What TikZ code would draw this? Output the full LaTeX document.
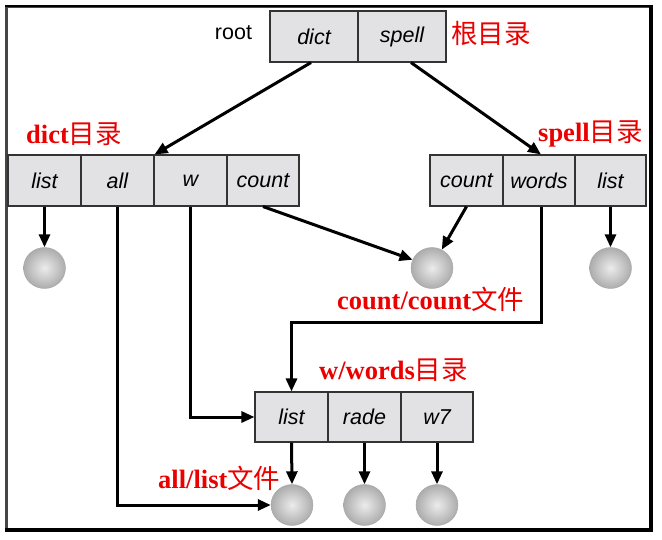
\documentclass[tikz,border=0pt]{standalone}
\usepackage{fontspec}
\setmainfont{Liberation Serif}
\setsansfont{Liberation Sans}
\newfontfamily\cjk{Noto Sans CJK SC}
\usetikzlibrary{arrows.meta,calc,shapes.geometric}
\definecolor{cellgray}{RGB}{226,226,228}
\definecolor{lblred}{RGB}{235,0,0}
\newcommand{\zh}[1]{{\cjk\mdseries #1}}
\tikzset{
  cell/.style={draw=black!80, line width=1.1pt, fill=cellgray, minimum height=51pt,
    inner sep=0pt, font=\sffamily\itshape\fontsize{21.5}{24}\selectfont},
  ball/.style={ellipse, minimum width=42pt, minimum height=41pt, inner sep=0pt,
    draw=gray!70, line width=0.4pt, inner color=gray!15, outer color=gray!65},
  conn/.style={line width=3pt, -{Triangle[length=13pt,width=11pt]}},
  lbl/.style={text=lblred, anchor=west, inner sep=0pt,
    font=\bfseries\fontsize{26.5}{28}\selectfont},
  plain/.style={font=\sffamily\fontsize{21.5}{24}\selectfont, inner sep=0pt}
}
\begin{document}
\begin{tikzpicture}[x=1pt,y=-1pt]
\useasboundingbox (0,0) rectangle (662,539);
% frame
\draw[line width=2.5pt, gray!55!black] (6.5,6.5) rectangle (650,529);
\draw[line width=2pt, black] (5,5.5) -- (652,5.5);
\draw[line width=4pt, black] (650.5,5) -- (650.5,530) -- (5,530);
% root
\node[plain] (rootlbl) at (233.5,33) {root};
\node[cell, minimum width=88pt] (rd) at (314,36.5) {dict};
\node[cell, minimum width=88pt] (rs) at (402,36.5) {spell};
\node[lbl] (l1) at (451,33) {\zh{根目录}};
% dict dir
\node[cell, minimum width=73pt] (dl) at (44.5,180.5) {list};
\node[cell, minimum width=73pt] (da) at (117.5,180.5) {all};
\node[cell, minimum width=73pt] (dw) at (190.5,180.5) {w};
\node[cell, minimum width=72pt] (dc) at (263,180.5) {count};
\node[lbl] (l2) at (26,134) {dict\zh{目录}};
% spell dir
\node[cell, minimum width=73pt] (sc) at (466.5,180.5) {count};
\node[cell, minimum width=72pt] (sw) at (539,180.5) {words};
\node[cell, minimum width=71pt] (sl) at (610.5,180.5) {list};
\node[lbl] (l3) at (538,134) {spell\zh{目录}};
% w/words dir
\node[cell, minimum width=73pt, minimum height=50pt] (wl) at (291.5,417) {list};
\node[cell, minimum width=73pt, minimum height=50pt] (wr) at (364.5,417) {rade};
\node[cell, minimum width=72pt, minimum height=50pt] (w7) at (437,417) {w7};
\node[lbl] (l4) at (319,370) {w/words\zh{目录}};
\node[lbl] (l5) at (337,299) {count/count\zh{文件}};
\node[lbl] (l6) at (158,478) {all/list\zh{文件}};
% balls
\node[ball] (c1) at (44.5,268) {};
\node[ball] (c2) at (432,268) {};
\node[ball] (c3) at (610.5,268) {};
\node[ball] (b1) at (292,505) {};
\node[ball] (b2) at (364.5,505) {};
\node[ball] (b3) at (437,505) {};
% connectors
\draw[conn] ($(rd.south)+(-3,0)$) -- (da.north east);
\draw[conn] ($(rs.south)+(9,0)$) -- ($(sw.north)+(2,0)$);
\draw[conn] (dl.south) -- (c1.north);
\draw[conn] (dc.south) -- (c2.157);
\draw[conn] (sc.south) -- (c2.62);
\draw[conn] (sl.south) -- (c3.north);
\coordinate (j1) at (291.5,322);
\draw[conn] ($(sw.south)+(2,0)$) |- (j1) -- (wl.north);
\draw[conn] (dw.south) |- (wl.west);
\draw[conn] (da.south) |- (b1.west);
\draw[conn] (wl.south) -- (b1.north);
\draw[conn] (wr.south) -- (b2.north);
\draw[conn] (w7.south) -- (b3.north);
\end{tikzpicture}
\end{document}
